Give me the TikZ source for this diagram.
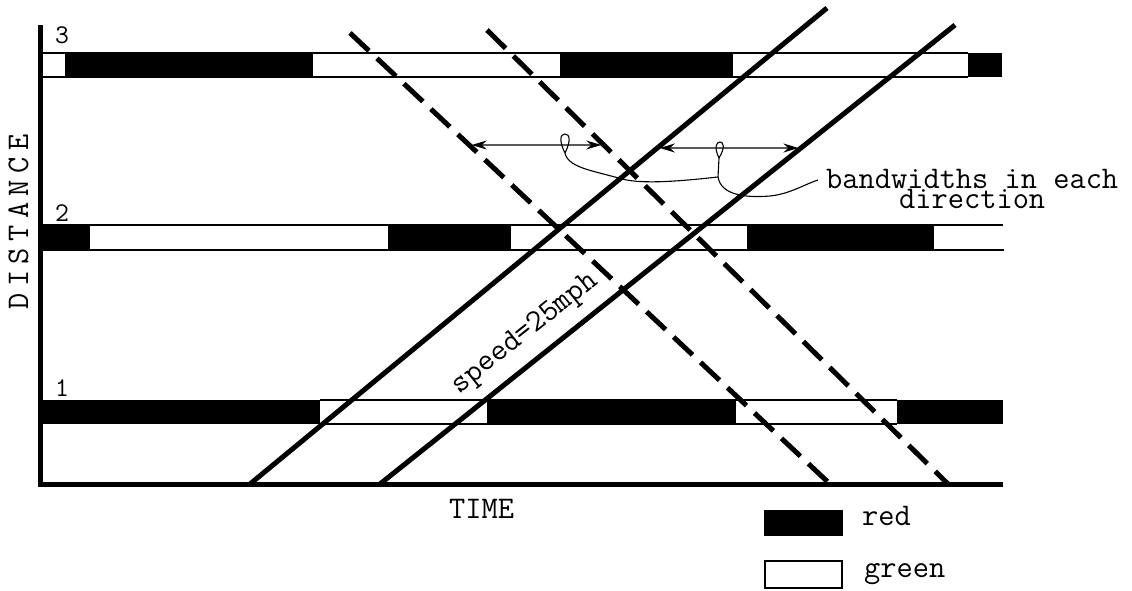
\documentclass[tikz,border=0pt]{standalone}
\usepackage{fontspec}
\usetikzlibrary{arrows.meta,calc,intersections}
\begin{document}
\begin{tikzpicture}[x=1pt,y=-1pt,
  axis/.style={line width=5pt,line join=miter},
  bandline/.style={line width=1.6pt},
  redfill/.style={fill=black},
  veh/.style={line width=5pt},
  vehdash/.style={line width=5pt,dash pattern=on 26pt off 11pt},
  bwarrow/.style={line width=1.4pt,{Stealth[length=15pt,width=9pt]}-{Stealth[length=15pt,width=9pt]},shorten <=2.5pt,shorten >=2.5pt},
  lead/.style={line width=1.1pt},
  tw/.style={font=\fontsize{31.5}{20}\selectfont\ttfamily,inner sep=0pt},
  num/.style={font=\fontsize{27}{27}\selectfont\ttfamily,inner sep=0pt},
  legbox/.style={draw=black,line width=1.6pt},
]
\useasboundingbox (0,0) rectangle (1132,590);

% ---- signal bands ----
% track 3
\fill[redfill] (65,53) rectangle (313,77);
\fill[redfill] (560,53) rectangle (733,77);
\fill[redfill] (968,53) rectangle (1002,77);
\draw[bandline] (40,53) -- (968,53);
\draw[bandline] (40,77) -- (968,77);
% track 2
\fill[redfill] (40,225) rectangle (90,250);
\fill[redfill] (388,225) rectangle (511,250);
\fill[redfill] (747,225) rectangle (934,250);
\draw[bandline] (40,225) -- (1003,225);
\draw[bandline] (40,250) -- (1004,250);
% track 1
\fill[redfill] (40,400) rectangle (320,424);
\fill[redfill] (487,400) rectangle (736,424);
\fill[redfill] (897,400) rectangle (1003,424);
\draw[bandline] (320,400) -- (897,400);
\draw[bandline] (320,424) -- (897,424);

% ---- axes ----
\coordinate (ytop) at (40,25);
\coordinate (orig) at (40,484);
\coordinate (xend) at (1003,484);
\draw[axis] (ytop) -- (orig) -- (xend);

% ---- trajectories ----
\coordinate (A0) at (250,484); \coordinate (A1) at (827,8);
\coordinate (B0) at (380,484); \coordinate (B1) at (955,25);
\coordinate (C0) at (350,33);  \coordinate (C1) at (830,484);
\coordinate (D0) at (487,30);  \coordinate (D1) at (948,484);
\draw[veh,name path=lA] (A0) -- (A1);
\draw[veh,name path=lB] (B0) -- (B1);
\draw[vehdash,name path=lC] (C0) -- (C1);
\draw[vehdash,name path=lD] (D0) -- (D1);

% ---- bandwidth arrows ----
\path[name path=h1] (300,145) -- (800,145);
\path[name path=h2] (500,148) -- (1000,148);
\path[name intersections={of=lC and h1,by=bl1}];
\path[name intersections={of=lD and h1,by=bl2}];
\path[name intersections={of=lA and h2,by=br1}];
\path[name intersections={of=lB and h2,by=br2}];
\draw[bwarrow] (bl1) -- (bl2);
\draw[bwarrow] (br1) -- (br2);

% loops and leaders
\coordinate (loopL) at (565,153);
\coordinate (loopR) at (719,158);
\coordinate (join) at (718,177);
\coordinate (leadend) at (818,180);
\draw[lead] (loopL) .. controls (559,141) and (560,134) .. (565,134) .. controls (570,134) and (571,141) .. (loopL);
\draw[lead] (loopL) .. controls (568,168) and (595,171) .. (622,179) .. controls (645,185) and (690,180) .. (join);
\draw[lead] (loopR) .. controls (714,148) and (716,142) .. (720,142) .. controls (724,142) and (725,148) .. (loopR);
\draw[lead] (loopR) -- (join) .. controls (721,195) and (745,198) .. (770,196) .. controls (790,194) and (805,184) .. (leadend);

% ---- labels ----
\node[tw,anchor=north west,align=center] (bwlabel) at (826,168.8) {bandwidths in each\\direction};
\node[tw,anchor=base,rotate=38.6] (speed) at ($($(B0)!0.282!(B1)$)+(-13,-16)$) {speed=25mph};
\node[tw,anchor=base,rotate=90] (dist) at (28,222) {D\kern6.5pt I\kern6.5pt S\kern6.5pt T\kern6.5pt A\kern6.5pt N\kern6.5pt C\kern6.5pt E};
\node[tw,anchor=base west] (time) at (449,518) {TIME};
\node[num,anchor=base west] (n3) at (55,43) {3};
\node[num,anchor=base west] (n2) at (55,221) {2};
\node[num,anchor=base west] (n1) at (55,396) {1};

% ---- legend ----
\node[legbox,fill=black,minimum width=77pt,minimum height=24pt,inner sep=0pt,anchor=north west] (legred) at (764,510) {};
\node[legbox,fill=white,minimum width=77pt,minimum height=27pt,inner sep=0pt,anchor=north west] (leggreen) at (764,560) {};
\node[tw,anchor=base west] (txtred) at (862,525) {red};
\node[tw,anchor=base west] (txtgreen) at (864,577) {green};
\end{tikzpicture}
\end{document}
